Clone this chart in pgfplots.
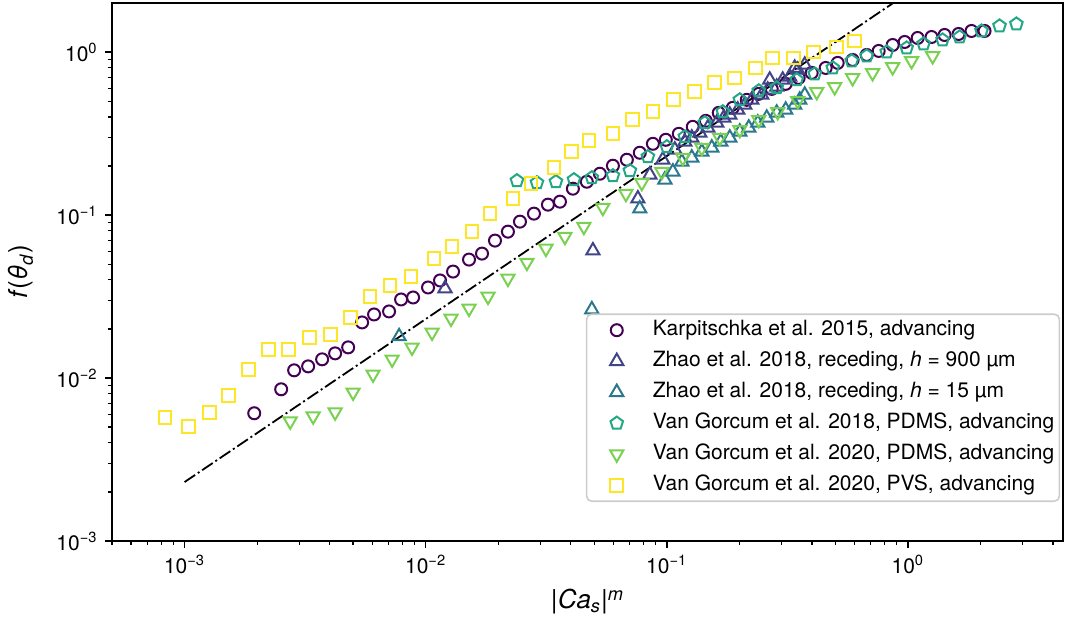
\documentclass[border=0pt]{standalone}
\usepackage{pgfplots}
\usepackage{pgfplotstable}
\pgfplotsset{compat=1.18}
\usepackage{fontspec}
\setmainfont{TeX Gyre Heros}
\definecolor{cA}{HTML}{440154}
\definecolor{cB}{HTML}{414487}
\definecolor{cC}{HTML}{2A788E}
\definecolor{cD}{HTML}{22A884}
\definecolor{cE}{HTML}{7AD151}
\definecolor{cF}{HTML}{FDE725}

\pgfplotstableread{
x y
1.945e-3 6.08e-3
2.516e-3 8.53e-3
2.848e-3 1.115e-2
3.255e-3 1.179e-2
3.721e-3 1.302e-2
4.212e-3 1.417e-2
4.77e-3 1.542e-2
5.45e-3 2.193e-2
6.11e-3 2.455e-2
7.05e-3 2.562e-2
7.91e-3 3.034e-2
8.87e-3 3.12e-2
1.023e-2 3.594e-2
1.147e-2 3.97e-2
1.299e-2 4.50e-2
1.513e-2 5.33e-2
1.713e-2 5.80e-2
1.939e-2 6.97e-2
2.194e-2 7.91e-2
2.461e-2 9.11e-2
2.813e-2 0.1020
3.215e-2 0.1158
3.606e-2 0.1208
4.08e-2 0.1451
4.66e-2 0.1601
5.28e-2 0.1793
5.98e-2 0.2007
6.83e-2 0.2184
7.73e-2 0.2411
8.76e-2 0.2736
9.91e-2 0.2895
0.1122 0.3151
0.1282 0.3477
0.1452 0.3784
0.1643 0.4236
0.1878 0.4547
0.2147 0.509
0.2407 0.554
0.2725 0.594
0.3114 0.638
0.3526 0.694
0.3991 0.745
0.4562 0.799
0.5116 0.858
0.590 0.894
0.675 0.960
0.757 1.016
0.865 1.105
0.970 1.153
1.098 1.220
1.254 1.237
1.420 1.273
1.623 1.291
1.837 1.347
2.080 1.347
}\karp

\pgfplotstableread{
x y
1.203e-2 3.543e-2
4.94e-2 6.05e-2
7.59e-2 0.1260
8.51e-2 0.1768
9.63e-2 0.2184
0.1080 0.2515
0.1188 0.2815
0.1270 0.2979
0.1371 0.3196
0.1480 0.3429
0.1612 0.368
0.1724 0.3948
0.1826 0.412
0.1970 0.4420
0.2106 0.474
0.2252 0.509
0.2477 0.546
0.2623 0.586
0.2674 0.675
0.2858 0.611
0.3027 0.675
0.3236 0.704
0.3394 0.799
0.3493 0.777
0.3735 0.834
}\zhaoA

\pgfplotstableread{
x y
7.76e-3 1.800e-2
4.89e-2 2.634e-2
7.73e-2 0.1094
9.82e-2 0.1647
0.1060 0.1844
0.1155 0.2123
0.1270 0.2246
0.1398 0.2444
0.1537 0.2587
0.1675 0.2815
0.1826 0.2979
0.2009 0.324
0.2189 0.3429
0.2385 0.368
0.2598 0.3948
0.2858 0.4236
0.3114 0.4420
0.3394 0.474
0.3560 0.509
0.3735 0.546
}\zhaoB

\pgfplotstableread{
x y
2.391e-2 0.1624
2.895e-2 0.1579
3.47e-2 0.1601
4.12e-2 0.1647
4.89e-2 0.1694
5.98e-2 0.1743
7.03e-2 0.1870
8.35e-2 0.2279
0.1001 0.2624
0.1188 0.302
0.1438 0.368
0.1708 0.4298
0.2009 0.509
0.2407 0.578
0.2858 0.603
0.3459 0.675
0.4108 0.734
0.488 0.799
0.585 0.882
0.675 0.946
0.817 1.001
0.988 1.059
1.162 1.121
1.393 1.186
1.639 1.237
2.021 1.347
2.40 1.445
2.82 1.486
}\vgA

\pgfplotstableread{
x y
2.742e-3 5.43e-3
3.415e-3 5.83e-3
4.212e-3 6.17e-3
5.00e-3 8.17e-3
6.05e-3 1.054e-2
7.26e-3 1.302e-2
8.78e-3 1.542e-2
1.063e-2 1.905e-2
1.274e-2 2.32e-2
1.513e-2 2.672e-2
1.814e-2 3.164e-2
2.194e-2 4.08e-2
2.63e-2 5.11e-2
3.154e-2 6.23e-2
3.781e-2 7.37e-2
4.53e-2 8.49e-2
5.43e-2 0.1110
6.77e-2 0.1352
7.88e-2 0.1579
9.54e-2 0.1844
0.1166 0.2246
0.1398 0.2587
0.1659 0.2979
0.2009 0.3334
0.2407 0.3839
0.2886 0.4298
0.3493 0.502
0.4188 0.570
0.497 0.611
0.590 0.694
0.714 0.745
0.865 0.810
1.036 0.882
1.267 0.946
}\vgB

\pgfplotstableread{
x y
8.3e-4 5.75e-3
1.036e-3 5.06e-3
1.266e-3 6.17e-3
1.517e-3 7.83e-3
1.837e-3 1.131e-2
2.223e-3 1.498e-2
2.690e-3 1.498e-2
3.287e-3 1.775e-2
4.016e-3 1.852e-2
4.86e-3 2.353e-2
5.88e-3 3.164e-2
7.12e-3 3.70e-2
8.70e-3 4.20e-2
1.083e-2 5.41e-2
1.286e-2 6.40e-2
1.556e-2 7.91e-2
1.849e-2 0.1020
2.302e-2 0.1260
2.734e-2 0.1557
3.404e-2 0.1951
4.04e-2 0.2444
4.755e-2 0.2855
5.98e-2 0.3151
7.23e-2 0.3839
8.76e-2 0.4298
0.1070 0.509
0.1307 0.570
0.1582 0.647
0.1915 0.694
0.2339 0.799
0.2752 0.920
0.3362 0.920
0.4069 1.001
0.5069 1.075
0.6017 1.17
}\pvs

\pgfplotstableread{
x y
1e-3 2.3e-3
1 2.3
}\guide

\begin{document}
\fontsize{10.5bp}{12.6bp}\selectfont
\begin{tikzpicture}
\begin{axis}[
  scale only axis, width=475.5bp, height=269bp,
  xmode=log, ymode=log,
  xmin=5e-4, xmax=4.4, ymin=1e-3, ymax=2,
  axis line style={line width=0.8bp},
  tick align=outside,
  xtick pos=bottom, ytick pos=left,
  xtick={1e-3,1e-2,1e-1,1},
  xticklabels={10\textsuperscript{−3},10\textsuperscript{−2},10\textsuperscript{−1},10\textsuperscript{0}},
  ytick={1e-3,1e-2,1e-1,1},
  yticklabels={10\textsuperscript{−3},10\textsuperscript{−2},10\textsuperscript{−1},10\textsuperscript{0}},
  minor xtick={5e-4,6e-4,7e-4,8e-4,9e-4,2e-3,3e-3,4e-3,5e-3,6e-3,7e-3,8e-3,9e-3,2e-2,3e-2,4e-2,5e-2,6e-2,7e-2,8e-2,9e-2,0.2,0.3,0.4,0.5,0.6,0.7,0.8,0.9,2,3,4},
  minor ytick={2e-3,3e-3,4e-3,5e-3,6e-3,7e-3,8e-3,9e-3,2e-2,3e-2,4e-2,5e-2,6e-2,7e-2,8e-2,9e-2,0.2,0.3,0.4,0.5,0.6,0.7,0.8,0.9},
  major tick length=3.5bp, minor tick length=2bp,
  major tick style={black, line width=0.8bp},
  minor tick style={black, line width=0.6bp},
  tick label style={font=\fontsize{10.5bp}{12.6bp}\selectfont},
  xlabel={|\textit{Ca}\textsubscript{\textit{s}}|\textsuperscript{\textit{m}}},
  ylabel={\textit{f}(\textit{θ}\textsubscript{\textit{d}})},
  every axis x label/.style={at={(axis description cs:0.5,-0.113)},anchor=center,font=\fontsize{13bp}{15bp}\selectfont},
  every axis y label/.style={at={(axis description cs:-0.0957,0.5)},rotate=90,anchor=center,font=\fontsize{13bp}{15bp}\selectfont},
  legend cell align=left,
  legend image code/.code={\draw[white, line width=0.1bp, solid] (-12.5bp,0bp) -- (12.5bp,0bp); \draw[mark repeat=1,sharp corners,#1] plot coordinates {(0bp,0bp)};},
  legend style={at={(0.997,0.0725)}, anchor=south east,
    draw=black!20, line width=0.8bp, rounded corners=2.5bp,
    fill=white, fill opacity=0.8, draw opacity=1, text opacity=1,
    inner xsep=2.5bp, inner ysep=3bp, row sep=5.5bp,
    font=\fontsize{10.5bp}{12.6bp}\selectfont,
    nodes={inner sep=0pt, text height=7.5bp, text depth=2.5bp},
    /tikz/every odd column/.append style={column sep=5.5bp}},
]
\addplot[only marks, mark=o, mark size=3bp, draw=cA, line width=1bp] table {\karp};
\addlegendentry{Karpitschka et al. 2015, advancing}
\addplot[only marks, mark=triangle, mark size=3.8bp, draw=cB, line width=1bp] table {\zhaoA};
\addlegendentry{Zhao et al. 2018, receding, \textit{h} = 900 µm}
\addplot[only marks, mark=triangle, mark size=3.8bp, draw=cC, line width=1bp] table {\zhaoB};
\addlegendentry{Zhao et al. 2018, receding, \textit{h} = 15 µm}
\addplot[only marks, mark=pentagon, mark size=3.3bp, draw=cD, line width=1bp] table {\vgA};
\addlegendentry{Van Gorcum et al. 2018, PDMS, advancing}
\addplot[only marks, mark=triangle, mark options={rotate=180}, mark size=3.8bp, draw=cE, line width=1bp] table {\vgB};
\addlegendentry{Van Gorcum et al. 2020, PDMS, advancing}
\addplot[only marks, mark=square, mark size=3.2bp, draw=cF, line width=1bp] table {\pvs};
\addlegendentry{Van Gorcum et al. 2020, PVS, advancing}
\addplot[forget plot, black, line width=0.9bp, dash pattern=on 6.4bp off 1.6bp on 1bp off 1.6bp] table {\guide};
\end{axis}
\pgfresetboundingbox
\path ([shift={(-56bp,-40bp)}]current axis.south west) rectangle ([shift={(5.5bp,1.5bp)}]current axis.north east);
\end{tikzpicture}
\end{document}
